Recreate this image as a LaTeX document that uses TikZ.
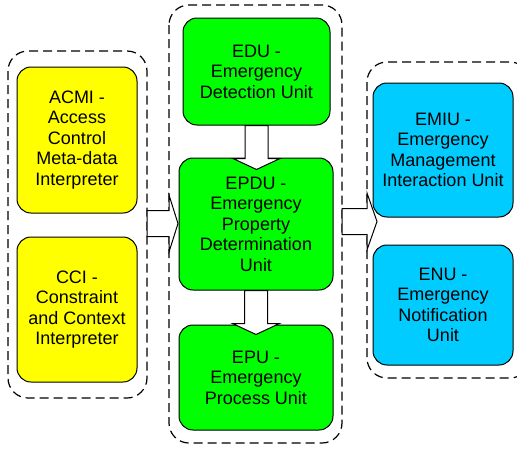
\documentclass[tikz,border=0pt]{standalone}
\usepackage{fontspec}
\setmainfont{Liberation Sans}
\usetikzlibrary{calc}
\definecolor{boxyellow}{HTML}{FFFF00}
\definecolor{boxgreen}{HTML}{00FF00}
\definecolor{boxblue}{HTML}{00CCFF}
\tikzset{
  unit/.style={draw=black, line width=1pt, rounded corners=14pt, align=center,
    inner sep=2pt, font=\fontsize{18}{20.5}\selectfont, anchor=center},
  yunit/.style={unit, fill=boxyellow},
  gunit/.style={unit, fill=boxgreen},
  bunit/.style={unit, fill=boxblue},
  group/.style={draw=black, line width=1.2pt, dash pattern=on 9pt off 5pt, rounded corners=20pt},
  blockarrow/.style={draw=black, fill=white, line width=1pt, line join=miter}
}
\begin{document}
\begin{tikzpicture}[x=1pt,y=-1pt]
\useasboundingbox (0,0) rectangle (517,450);
\clip (0,0) rectangle (517,450);
% group containers
\draw[group] (8,51) rectangle (147,398);
\draw[group] (169,5) rectangle (342,443);
\draw[group] (367,62) rectangle (530,378);
\coordinate (lcE) at (147,223.5);
\coordinate (mcW) at (169,223.5);
\coordinate (mcE) at (342,221.5);
\coordinate (rcW) at (367,221.5);
% units
\node[yunit, minimum width=120pt, minimum height=146pt] (acmi) at (77,140) {ACMI -\\Access\\Control\\Meta-data\\Interpreter};
\node[yunit, minimum width=120pt, minimum height=145pt] (cci) at (77,309.5) {CCI -\\Constraint\\and Context\\Interpreter};
\node[gunit, minimum width=147pt, minimum height=107pt] (edu) at (256.5,71.5) {EDU -\\Emergency\\Detection Unit};
\node[gunit, minimum width=154pt, minimum height=132pt] (epdu) at (256,224) {EPDU -\\Emergency\\Property\\Determination\\Unit};
\node[gunit, minimum width=154pt, minimum height=105pt] (epu) at (256,377.5) {EPU -\\Emergency\\Process Unit};
\node[bunit, minimum width=140pt, minimum height=134pt] (emiu) at (443,150) {EMIU -\\Emergency\\Management\\Interaction Unit};
\node[bunit, minimum width=140pt, minimum height=120pt] (enu) at (443,305) {ENU -\\Emergency\\Notification\\Unit};
% block arrows (vertical)
\draw[blockarrow] ($(edu.south)+(-11.5,0)$) -- ($(edu.south)+(11.5,0)$) -- ($(edu.south)+(11.5,33)$)
  -- ($(edu.south)+(23.5,33)$) -- ($(edu.south)+(0,44)$) -- ($(edu.south)+(-23.5,33)$)
  -- ($(edu.south)+(-11.5,33)$) -- cycle;
\draw[blockarrow] ($(epdu.south)+(-11.5,0)$) -- ($(epdu.south)+(11.5,0)$) -- ($(epdu.south)+(11.5,33)$)
  -- ($(epdu.south)+(23.5,33)$) -- ($(epdu.south)+(0,44)$) -- ($(epdu.south)+(-23.5,33)$)
  -- ($(epdu.south)+(-11.5,33)$) -- cycle;
% block arrows (horizontal)
\draw[blockarrow] ($(lcE)+(0,-13)$) -- ($(mcW)+(0,-13)$) -- ($(mcW)+(0,-28.5)$)
  -- ($(mcW)+(9,0)$) -- ($(mcW)+(0,28.5)$) -- ($(mcW)+(0,13)$) -- ($(lcE)+(0,13)$) -- cycle;
\draw[blockarrow] ($(mcE)+(0,-13)$) -- ($(rcW)+(0,-13)$) -- ($(rcW)+(0,-28.5)$)
  -- ($(rcW)+(10,0)$) -- ($(rcW)+(0,28.5)$) -- ($(rcW)+(0,13)$) -- ($(mcE)+(0,13)$) -- cycle;
\end{tikzpicture}
\end{document}
